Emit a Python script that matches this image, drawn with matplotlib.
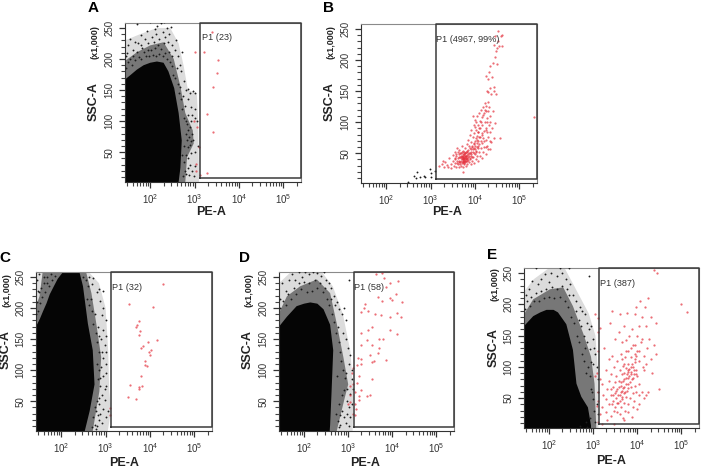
import matplotlib
matplotlib.use("Agg")
import matplotlib.pyplot as plt

plt.rcParams['font.family'] = ['Liberation Sans', 'DejaVu Sans']
plt.rcParams['mathtext.fontset'] = 'custom'
plt.rcParams['mathtext.rm'] = 'Liberation Sans'

W, H = 701, 468

# ---- values: log10(PE-A), SSC-A (x1,000) ----
core_a = [(1.43,167),(1.55,174),(1.70,183),(1.85,190),(2.0,194),(2.15,196),(2.3,194),(2.41,180),(2.54,153),(2.64,113),(2.71,69),(2.68,25),(2.64,2)]
band_a = [(1.43,197),(1.70,211),(2.0,222),(2.30,227),(2.53,200),(2.68,156),(2.79,113),(2.96,85),(2.98,64),(2.83,42),(2.79,2)]
halo_a = [(1.43,230),(1.77,240),(2.15,250),(2.45,250),(2.64,225),(2.75,190),(2.85,150),(3.05,145),(3.08,100),(3.1,2)]
grey_a = [(1.46,205),(1.5,222),(1.55,233),(1.6,215),(1.65,228),(1.7,257),(1.72,225),(1.78,238),(1.82,218),(1.88,232),(1.92,245),(1.95,225),
          (2.0,260),(2.03,236),(2.08,228),(2.1,248),(2.14,240),(2.16,253),(2.2,232),(2.24,258),(2.28,243),(2.3,260),(2.33,236),(2.37,250),(2.4,228),
          (2.43,240),(2.47,252),(2.5,222),(2.55,215),(2.58,230),(2.62,205),(2.66,190),(2.7,180),(2.72,212),(2.76,165),(2.8,150),(2.84,135),(2.86,152),
          (2.9,145),(2.93,122),(2.96,148),(3.0,120),(3.02,145),(2.8,100),(2.85,110),(2.92,100),(3.0,105),(3.05,100),(2.86,40),(2.9,30),(2.95,20),
          (2.85,25),(2.8,15),(2.98,12),(3.02,28),(2.92,48),(3.08,60),(3.0,50),(2.75,60),(2.88,14),(2.82,95),(2.95,110),
          (1.45,185),(1.5,195),(1.48,210),(1.55,200),(1.58,190),(1.62,205),(1.66,198),(1.7,212),(1.74,203),(1.78,222),(1.8,200),(1.85,212),(1.9,205),(1.95,215),
          (1.98,205),(2.02,215),(2.06,206),(2.1,218),(2.14,205),(2.18,222),(2.2,208),(2.25,216),(2.28,205),(2.3,225),(2.34,210),(2.38,200),(2.42,212),(2.44,195),
          (2.48,188),(2.5,205),(2.52,175),(2.56,170),(2.6,185),(2.62,160),(2.64,145),(2.68,155),(2.7,135),(2.72,120),(2.74,140),(2.76,105),(2.78,125),(2.8,80),
          (2.82,70),(2.85,85),(2.88,75),(2.9,90),(2.92,68),(2.95,80),(2.8,45),(2.76,35),(2.78,20),(2.74,12),(2.72,45),(2.84,58),(2.9,62),(2.96,70)]
red_a = [(3.0,212),(3.21,212),(3.53,198),(3.50,178),(3.41,155),(3.27,112),(3.41,83),(3.29,17),(3.13,13),(3.04,31),(3.09,58),(3.05,91),(2.98,101),(3.39,243),(3.04,20)]

grey_b = [(2.48,3),(2.62,14),(2.69,19),(2.77,11),(2.88,11),(2.98,24),(3.0,18),(3.1,22),(2.68,10),(2.86,14),(3.02,12)]
red_b = [(3.2,30),(3.25,33),(3.3,28),(3.33,36),(3.36,31),(3.27,38),(3.4,27),(3.42,42),(3.45,33),(3.47,26),(3.5,38),(3.5,47),(3.52,30),(3.54,42),(3.55,52),
 (3.56,35),(3.58,28),(3.58,45),(3.6,38),(3.6,58),(3.62,33),(3.62,42),(3.63,48),(3.64,27),(3.65,38),(3.65,55),(3.66,44),(3.67,36),(3.68,30),(3.68,42),
 (3.69,50),(3.7,40),(3.7,34),(3.71,46),(3.71,62),(3.72,28),(3.72,38),(3.73,44),(3.73,53),(3.74,19),(3.74,36),(3.74,41),(3.75,47),(3.75,33),(3.76,43),
 (3.76,39),(3.77,50),(3.77,36),(3.78,44),(3.78,58),(3.79,30),(3.79,41),(3.8,46),(3.8,37),(3.81,52),(3.82,43),(3.82,65),(3.83,33),(3.84,48),(3.84,39),
 (3.85,55),(3.85,72),(3.86,45),(3.87,36),(3.87,62),(3.88,50),(3.89,42),(3.89,80),(3.9,56),(3.9,33),(3.91,68),(3.92,48),(3.92,88),(3.93,38),(3.94,60),
 (3.95,52),(3.95,76),(3.96,44),(3.97,66),(3.97,96),(3.98,35),(3.98,58),(3.99,82),(4.0,48),(4.0,70),(4.01,62),(4.01,103),(4.02,40),(4.02,75),(4.03,54),
 (4.03,88),(4.04,66),(4.05,45),(4.05,78),(4.05,110),(4.06,58),(4.07,70),(4.07,96),(4.08,38),(4.08,84),(4.09,52),(4.09,115),(4.1,64),(4.1,76),(4.11,102),
 (4.12,46),(4.12,90),(4.13,70),(4.13,120),(4.14,58),(4.15,80),(4.15,108),(4.16,42),(4.16,66),(4.17,95),(4.18,125),(4.18,74),(4.19,52),(4.2,86),(4.2,114),
 (4.21,60),(4.22,100),(4.23,130),(4.24,72),(4.25,48),(4.25,118),(4.26,88),(4.27,106),(4.28,62),(4.29,132),(4.3,76),(4.31,96),(4.32,124),(4.33,56),(4.34,84),
 (4.35,110),(4.36,68),(4.38,90),(4.4,118),(4.42,74),(4.45,98),(4.57,75),(4.25,175),(4.27,150),(4.3,148),(4.3,170),(4.32,180),(4.33,155),(4.35,190),
 (4.36,146),(4.38,172),(4.4,195),(4.42,156),(4.44,150),(4.45,205),(4.47,215),(4.48,145),(4.5,220),(4.5,193),(4.52,230),(4.42,224),(4.45,238),(4.55,222),
 (4.6,222),(4.52,247),(4.62,240),(4.58,238),(5.33,109),
 (3.55,40),(3.57,48),(3.59,34),(3.61,52),(3.63,36),(3.64,44),(3.66,50),(3.66,32),(3.68,46),(3.69,38),(3.7,44),(3.7,52),(3.72,42),(3.72,48),(3.73,36),(3.73,40),
 (3.74,46),(3.75,38),(3.75,42),(3.75,52),(3.76,35),(3.76,48),(3.77,41),(3.77,45),(3.78,38),(3.78,50),(3.79,46),(3.8,42),(3.8,52),(3.81,38),(3.82,47),(3.83,41),
 (3.83,54),(3.85,44),(3.86,50),(3.88,40),(3.88,58),(3.9,46),(3.91,52),(3.93,62),(3.94,44),(3.96,56),(3.97,50),(3.99,64),(4.0,56),(4.02,52),(4.04,60),(4.05,72),
 (4.06,84),(4.08,62),(4.1,90),(4.12,76),(4.14,100),(4.16,82),(4.18,112),(4.2,70),(4.22,120),(4.24,90),(4.26,126),(4.28,100),(4.3,118),(4.26,60),(4.3,56),(4.35,70),
 (3.95,110),(4.0,92),(4.03,100),(4.28,84),(4.33,100)]

core_c = [(1.43,170),(1.52,183),(1.59,195),(1.67,208),(1.74,222),(1.84,236),(1.92,247),(2.04,258),(2.41,258),(2.49,235),(2.60,175),(2.71,132),(2.75,77),(2.64,34),(2.53,2)]
band_c = [(1.43,203),(1.51,219),(1.58,258),(2.56,258),(2.68,224),(2.79,175),(2.90,121),(2.86,66),(2.71,2)]
halo_c = [(1.43,258),(2.62,258),(2.85,240),(3.0,200),(3.06,130),(3.08,70),(3.12,35),(3.05,2)]
grey_c = [(1.45,245),(1.5,255),(1.55,232),(1.62,250),(1.48,228),(1.68,240),(2.62,250),(2.7,238),(2.72,248),(2.8,225),(2.85,230),(2.95,228),(2.88,212),(2.95,200),
          (2.92,188),(3.0,180),(2.95,165),(3.0,155),(2.9,150),(2.98,140),(3.02,130),(2.95,120),(3.0,110),(3.02,95),(2.95,90),(3.0,75),(2.92,60),(2.98,52),(3.05,35),
          (2.95,38),(3.0,25),(2.88,30),(2.92,15),(2.85,20),(2.8,10),(2.78,35),(2.84,45),(2.78,5),(2.98,70),(2.9,105),
          (1.46,210),(1.5,225),(1.52,208),(1.56,218),(1.6,240),(1.63,225),(1.68,250),(1.72,236),(1.76,255),(1.8,245),(1.86,252),(1.44,190),(1.48,195),(2.5,250),
          (2.55,245),(2.6,235),(2.58,215),(2.62,205),(2.66,215),(2.7,195),(2.72,175),(2.76,190),(2.78,160),(2.8,145),(2.82,170),(2.84,130),(2.86,155),(2.8,110),
          (2.84,100),(2.82,85),(2.88,75),(2.86,55),(2.8,50),(2.76,40),(2.72,25),(2.75,12),(2.7,8),(2.82,28),(2.88,88),(2.92,130)]
red_c = [(4.29,239),(3.53,207),(4.08,201),(3.75,179),(3.70,172),(3.68,170),(3.78,163),(3.76,157),(4.15,149),(3.95,146),(3.85,139),(3.80,136),(4.03,133),(3.98,130),
         (4.0,124),(3.89,114),(3.89,109),(3.94,106),(3.80,90),(3.56,76),(3.83,74),(3.75,73),(3.75,70),(3.50,56),(3.68,53),(3.1,39),(3.1,28)]

core_d = [(1.43,170),(1.61,186),(1.83,203),(2.0,207),(2.14,209),(2.3,207),(2.44,198),(2.59,173),(2.66,132),(2.62,61),(2.59,12),(2.58,2)]
band_d = [(1.43,192),(1.61,219),(1.91,235),(2.29,246),(2.59,224),(2.74,175),(2.89,121),(3.0,77),(2.92,55),(2.74,2)]
halo_d = [(1.43,240),(1.7,258),(2.4,258),(2.65,235),(2.88,190),(3.05,130),(3.12,60),(3.1,2)]
grey_d = [(1.46,215),(1.5,240),(1.58,228),(1.65,245),(1.72,255),(1.8,245),(1.88,258),(1.95,250),(2.02,258),(2.1,255),(2.2,258),(2.3,256),(2.38,252),(2.45,258),(2.5,245),
          (2.56,240),(2.62,232),(2.68,220),(2.7,205),(2.75,210),(2.8,198),(2.85,190),(2.9,200),(2.95,180),(3.02,245),(2.88,160),(2.95,150),(3.0,135),(3.05,125),(3.02,110),
          (3.08,100),(3.08,85),(3.1,70),(3.05,62),(3.08,45),(3.02,40),(2.98,30),(3.05,25),(2.9,25),(2.95,15),(3.02,10),(2.85,35),(2.82,12),(2.98,50),
          (1.46,200),(1.52,212),(1.58,205),(1.64,222),(1.7,215),(1.76,232),(1.82,222),(1.88,240),(1.94,230),(2.0,242),(2.06,225),(2.12,240),(2.18,228),(2.24,245),(2.3,232),
          (2.36,240),(2.42,225),(2.48,232),(2.52,215),(2.56,205),(2.6,215),(2.64,190),(2.68,178),(2.72,160),(2.76,170),(2.78,145),(2.82,130),(2.84,115),(2.88,100),(2.92,88),
          (2.96,95),(2.98,70),(2.9,68),(2.86,60),(2.8,45),(2.82,28),(2.76,18),(2.72,30),(2.78,8),(2.74,90)]
red_d = [(3.77,257),(3.62,254),(3.82,248),(4.13,243),(3.95,240),(3.86,234),(4.09,223),(3.68,218),(3.94,216),(3.77,212),(4.22,210),(4.0,213),(3.38,206),(3.35,200),(3.3,193),
         (3.45,195),(3.6,190),(3.75,188),(3.95,186),(4.1,192),(4.2,185),(3.55,170),(3.45,165),(3.3,160),(3.95,165),(4.1,158),(3.7,150),(3.8,150),(3.42,148),(3.3,140),(3.55,140),
         (3.7,136),(3.68,128),(3.5,125),(3.3,118),(3.22,120),(3.58,115),(3.85,117),(3.55,113),(3.2,108),(3.3,110),(3.12,103),(3.08,95),(3.25,90),(3.55,85),(3.2,80),(3.1,78),
         (3.05,75),(3.3,68),(3.15,65),(3.05,60),(3.25,58),(3.25,52),(3.5,60),(3.42,58),(3.05,48),(3.15,45),(3.18,38),(3.1,30),(3.15,27),(3.0,45)]

core_e = [(1.43,165),(1.64,181),(1.8,187),(1.94,191),(2.1,191),(2.2,187),(2.39,168),(2.54,127),(2.62,73),(2.73,52),(2.88,35),(2.95,6),(2.95,2)]
band_e = [(1.43,184),(1.64,208),(2.02,224),(2.32,227),(2.54,197),(2.77,154),(2.95,116),(3.03,73),(3.07,2)]
halo_e = [(1.43,220),(1.65,240),(2.0,258),(2.35,258),(2.6,225),(2.9,185),(3.05,150),(3.1,100),(3.12,2)]
grey_e = [(1.47,215),(1.55,225),(1.62,238),(1.7,258),(1.75,232),(1.82,240),(1.9,248),(2.0,236),(2.05,250),(2.12,262),(2.18,245),(2.25,258),(2.3,250),(2.38,240),(2.45,258),
          (2.4,225),(2.48,232),(2.55,215),(2.62,205),(2.7,195),(2.75,190),(2.68,175),(2.82,185),(2.85,170),(2.9,160),(2.95,165),(3.0,145),(3.02,130),(3.05,120),(3.0,105),
          (2.9,245),(2.78,150),(2.85,140),(2.92,128),(3.08,100),(3.1,80),(3.1,60),(3.08,40),(3.1,25),(3.05,12),(2.7,5),(2.85,4),
          (1.46,192),(1.5,205),(1.56,198),(1.6,212),(1.66,205),(1.7,218),(1.76,205),(1.82,222),(1.88,210),(1.94,225),(2.0,212),(2.06,228),(2.12,210),(2.18,225),(2.24,212),
          (2.3,230),(2.36,205),(2.42,195),(2.46,215),(2.5,180),(2.56,170),(2.6,190),(2.64,150),(2.68,140),(2.72,165),(2.74,120),(2.78,110),(2.82,130),(2.84,90),(2.88,100),
          (2.92,85),(2.96,108),(2.98,60),(3.0,48),(2.94,65),(3.02,30),(2.92,18),(2.84,12)]
red_e = [(3.05,185),(3.1,178),(3.12,155),(3.15,162),(3.1,125),(3.08,90),(3.05,85),(3.15,80),(3.1,60),(3.12,45),(3.08,38),(3.15,25),(3.12,12),(3.2,8),(3.2,35),(3.22,55),(3.2,72),
 (3.25,130),(3.28,95),(3.3,28),(3.3,48),(3.32,65),(3.32,15),(3.35,40),(3.35,78),(3.35,112),(3.38,170),(3.4,55),(3.4,22),(3.4,88),(3.42,190),(3.42,118),(3.45,45),(3.45,68),(3.48,9),
 (3.48,100),(3.5,35),(3.5,58),(3.5,75),(3.5,145),(3.52,50),(3.52,85),(3.55,28),(3.55,65),(3.55,110),(3.57,42),(3.58,78),(3.58,155),(3.6,55),(3.6,95),(3.6,185),(3.62,35),(3.62,70),
 (3.62,120),(3.65,48),(3.65,62),(3.65,88),(3.65,140),(3.67,18),(3.67,78),(3.68,102),(3.7,42),(3.7,58),(3.7,68),(3.7,90),(3.7,165),(3.72,30),(3.72,115),(3.74,52),(3.74,82),(3.75,143),
 (3.77,186),(3.77,62),(3.78,95),(3.78,72),(3.8,40),(3.8,105),(3.8,125),(3.82,85),(3.82,150),(3.84,50),(3.85,68),(3.85,92),(3.85,115),(3.87,20),(3.87,80),(3.88,160),(3.9,58),(3.9,100),
 (3.9,135),(3.92,88),(3.92,45),(3.94,120),(3.95,70),(3.95,108),(3.95,185),(3.97,195),(3.98,60),(3.98,95),(4.0,150),(4.0,32),(4.0,125),(4.0,85),(4.03,55),(4.03,110),(4.05,72),(4.05,165),
 (4.07,205),(4.08,140),(4.1,60),(4.1,180),(4.12,100),(4.15,118),(4.15,50),(4.18,195),(4.2,165),(4.22,130),(4.25,60),(4.25,210),(4.27,145),(4.3,112),(4.3,180),(4.33,90),(4.38,135),
 (4.38,255),(4.42,170),(4.45,250),(4.42,120),(4.5,65),(5.0,200),(5.12,187),
 (3.4,65),(3.42,40),(3.46,55),(3.48,30),(3.52,62),(3.54,42),(3.56,55),(3.58,68),(3.6,45),(3.62,60),(3.64,75),(3.66,52),(3.68,66),(3.7,80),(3.72,60),(3.74,72),(3.76,88),(3.78,66),(3.8,82),
 (3.82,96),(3.84,75),(3.86,88),(3.88,105),(3.9,82),(3.92,95),(3.94,112),(3.96,88),(3.98,118),(3.85,100),(3.8,92),(3.75,98),(3.7,105),(3.65,112),(3.75,125),(3.85,130),(3.95,135),
 (4.05,125),(4.1,145),(4.15,95),(4.2,105),(3.6,25),(3.7,15),(3.8,28),(3.9,35),(4.05,40),(4.2,55)]

x_exponents = [2, 3, 4, 5]
y_ticks = [50, 100, 150, 200, 250]
p1_labels = ["P1 (23)", "P1 (4967, 99%)", "P1 (32)", "P1 (58)", "P1 (387)"]
letters = ["A", "B", "C", "D", "E"]

PE_GATE = 1330

#            left right top bottom  gateBottom  letter(x,y)  PE-A(x,y)  SSC-A x  SSC-A y  mult y  P1(x,y)
layout = [
 (125, 301, 23, 182, 178, (93, 8),    (211, 212), 94,  102, 42,  (201.5, 38)),
 (361, 537, 24, 183, 179, (329, 8),   (447, 212), 330, 102, 42,  (436.5, 39)),
 (36,  212, 272, 431, 427, (5, 258),  (124, 463), 6,   350, 290, (112.5, 287)),
 (279, 454, 272, 431, 427, (245, 258),(365, 463), 248, 350, 290, (354.5, 287)),
 (524, 699, 268, 428, 424, (492, 255),(611, 461), 494, 348, 284, (600.5, 283)),
]
cores = [core_a, None, core_c, core_d, core_e]
bands = [band_a, None, band_c, band_d, band_e]
halos = [halo_a, None, halo_c, halo_d, halo_e]
greys = [grey_a, grey_b, grey_c, grey_d, grey_e]
reds = [red_a, red_b, red_c, red_d, red_e]

fig = plt.figure(figsize=(W / 100, H / 100), dpi=100)
YMIN, YMAX = 2, 258
XMIN, XMAX = 10 ** 1.43, 10 ** 5.4


def shell(ax, pts, colour, z):
    xs = [10 ** p[0] for p in pts] + [XMIN]
    ys = [p[1] for p in pts] + [YMIN]
    ax.fill(xs, ys, color=colour, lw=0, zorder=z)


for i in range(5):
    l, r, t, b, gb, let, pe, sx, sy, my, p1 = layout[i]
    ax = fig.add_axes([l / W, 1 - b / H, (r - l) / W, (b - t) / H])
    ax.set_xscale('log')
    ax.set_xlim(XMIN, XMAX)
    ax.set_ylim(YMIN, YMAX)

    if cores[i] is not None:
        shell(ax, halos[i], '#dcdcdc', 1)
        shell(ax, bands[i], '#777777', 1.5)
        shell(ax, cores[i], '#050505', 2)
    gx = [10 ** p[0] for p in greys[i]]
    gy = [p[1] for p in greys[i]]
    ax.scatter(gx, gy, s=1.8, c='#1c1c1c', linewidths=0, zorder=3)
    rx = [10 ** p[0] for p in reds[i]]
    ry = [p[1] for p in reds[i]]
    ax.scatter(rx, ry, s=2.6, c='#e4303c', alpha=0.7, linewidths=0, zorder=4)

    gate_bottom = YMIN + (b - gb) / (b - t) * (YMAX - YMIN)
    ax.plot([PE_GATE, PE_GATE, XMAX, XMAX, PE_GATE], [gate_bottom, YMAX, YMAX, gate_bottom, gate_bottom],
            color='#3a3a3a', lw=1.1, zorder=5, clip_on=False)

    for s in ax.spines.values():
        s.set_color('#8a8a8a')
        s.set_linewidth(0.8)
    ax.spines['left'].set_color('#333333')
    ax.spines['bottom'].set_color('#333333')

    ax.set_xticks([10 ** k for k in x_exponents])
    ax.set_xticklabels([f'$\\mathregular{{10^{{{k}}}}}$' for k in x_exponents], fontsize=7, color='#333333')
    ax.set_xticks([m * 10 ** k for k in range(1, 6) for m in range(2, 10) if XMIN <= m * 10 ** k <= XMAX], minor=True)
    ax.set_xticklabels([], minor=True)
    ax.set_yticks(y_ticks)
    ax.set_yticklabels([str(v) for v in y_ticks], rotation=90, va='center', fontsize=7, color='#333333')
    ax.set_yticks(range(10, 260, 10), minor=True)
    ax.tick_params(which='major', length=4, width=0.9, color='#333333', pad=3.5)
    ax.tick_params(which='minor', length=2.6, width=0.8, color='#444444')

    fig.text(p1[0] / W, 1 - p1[1] / H, p1_labels[i], fontsize=6.6, color='#333333', ha='left', va='center')
    fig.text(let[0] / W, 1 - let[1] / H, letters[i], fontsize=11, fontweight='bold', ha='center', va='center')
    fig.text(pe[0] / W, 1 - pe[1] / H, 'PE-A', fontsize=9, fontweight='bold', color='#222222', ha='center', va='center')
    fig.text(sx / W, 1 - sy / H, 'SSC-A', fontsize=9, fontweight='bold', color='#222222', rotation=90, ha='center', va='center')
    fig.text((sx + 1) / W, 1 - my / H, '(x1,000)', fontsize=6.5, fontweight='bold', color='#222222', rotation=90, ha='center', va='center')

fig.savefig('out.png', dpi=100)
